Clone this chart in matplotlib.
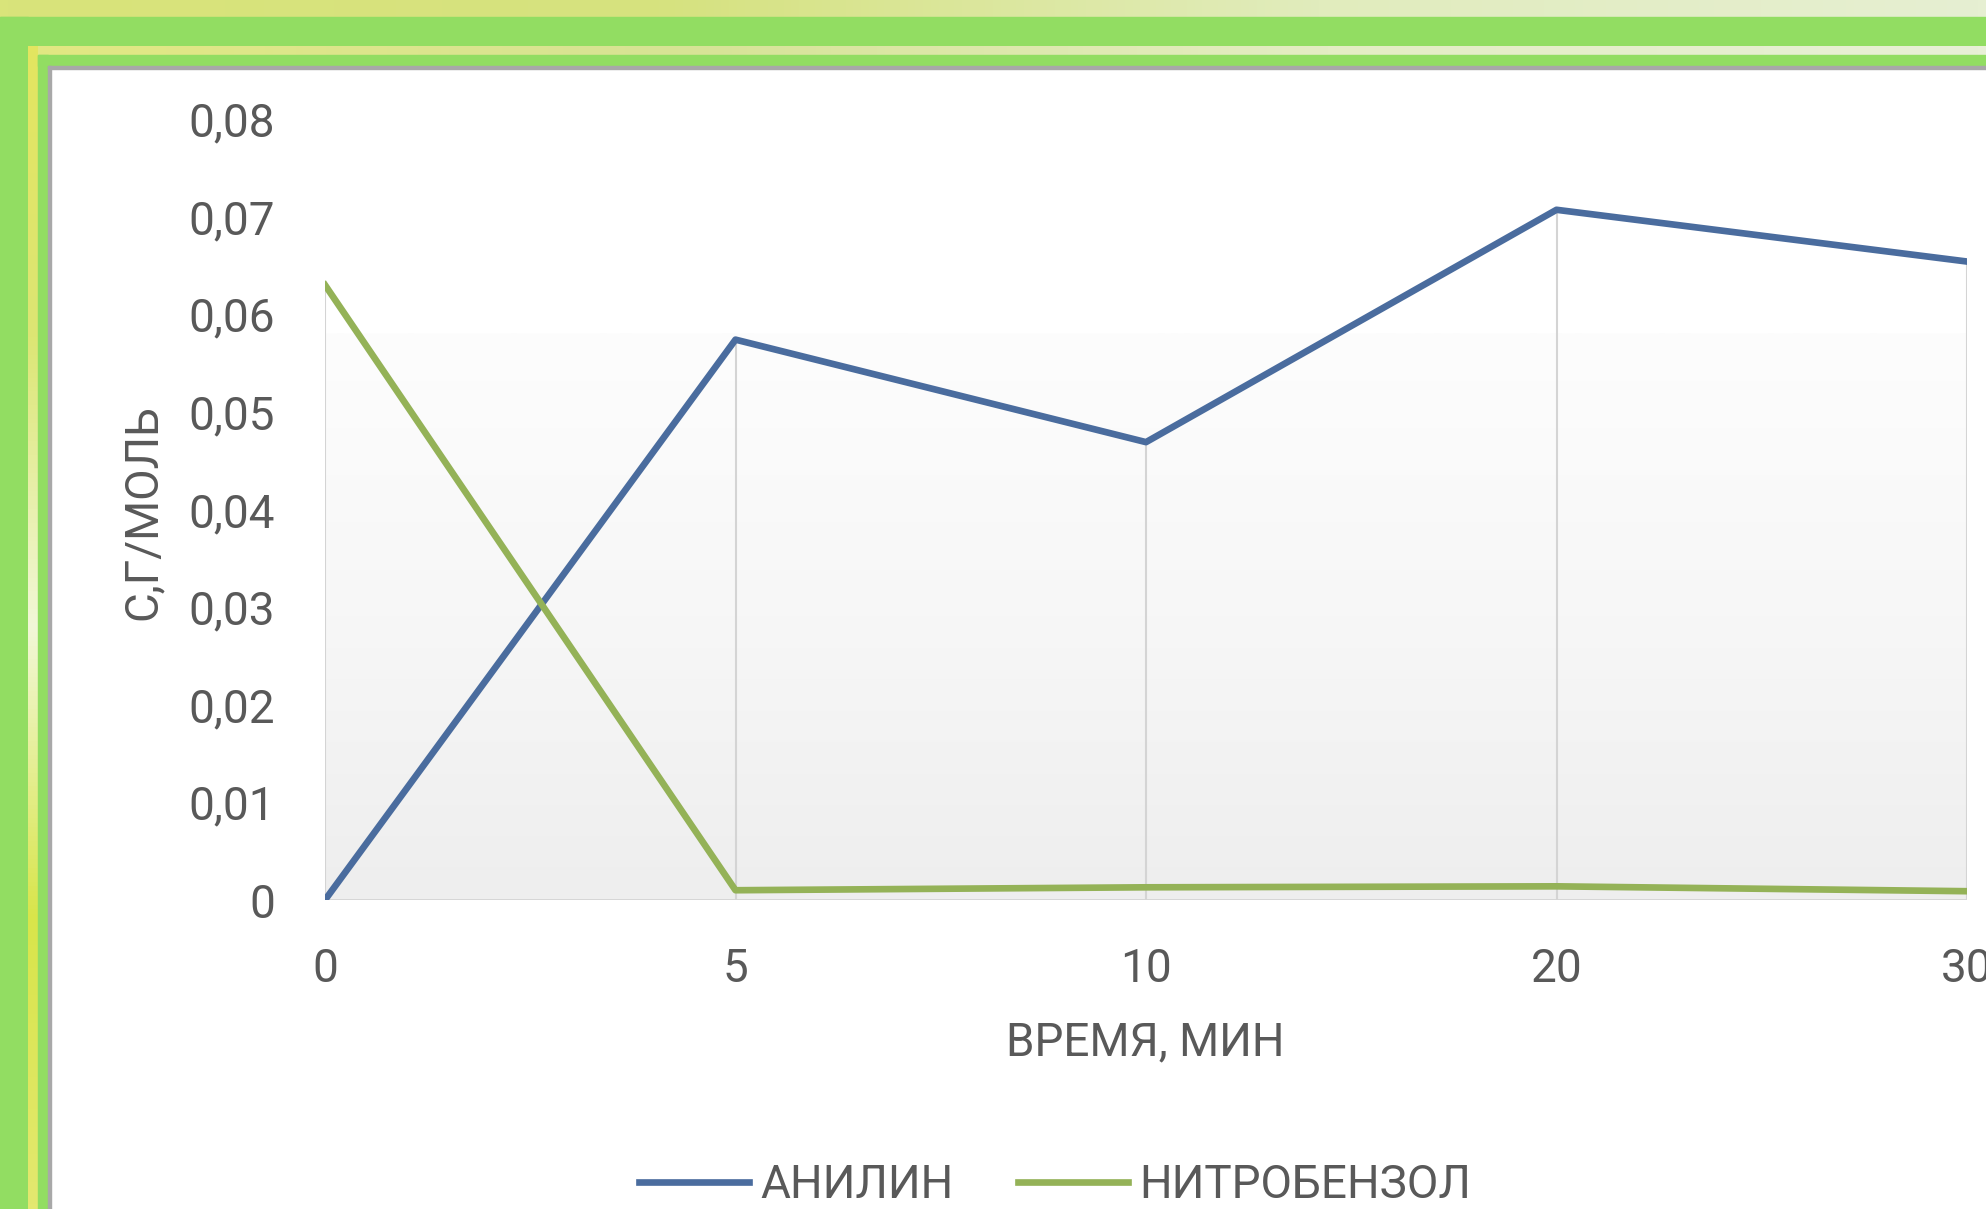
import numpy as np
import matplotlib
matplotlib.use("Agg")
import matplotlib.pyplot as plt
from matplotlib.colors import LinearSegmentedColormap
from matplotlib.patches import Rectangle

plt.rcParams["font.family"] = ["Roboto", "DejaVu Sans"]

# data
times = ["0", "5", "10", "20", "30"]
anilin = [0.0, 0.0574, 0.0469, 0.0707, 0.0654]
nitrobenzol = [0.063, 0.001, 0.0013, 0.0014, 0.0009]
y_ticks = [0.0, 0.01, 0.02, 0.03, 0.04, 0.05, 0.06, 0.07, 0.08]
y_labels = ["0", "0,01", "0,02", "0,03", "0,04", "0,05", "0,06", "0,07", "0,08"]

W, H = 1986, 1209
TXT = "#595959"
BLUE = "#4a6c9e"
GREEN = "#94b257"
FRAME = "#92dd62"

fig = plt.figure(figsize=(W / 100, H / 100), dpi=100)
fig.patch.set_facecolor("white")

# slide frame drawn in pixel space
bg = fig.add_axes([0, 0, 1, 1], zorder=-5)
bg.axis("off")
ramp = np.linspace(0, 1, 256).reshape(1, -1)
bg.imshow(ramp, extent=[0, W, 17, 0], aspect="auto", zorder=2,
          cmap=LinearSegmentedColormap.from_list(
              "t", ["#d9e47a", "#d6e27f", "#e1ecbd", "#e6efd2"]))
bg.add_patch(Rectangle((0, 17), W, 29, color=FRAME, zorder=3))
bg.add_patch(Rectangle((0, 17), 28, H, color=FRAME, zorder=3))
bg.imshow(ramp, extent=[28, W, 55, 46], aspect="auto", zorder=4,
          cmap=LinearSegmentedColormap.from_list(
              "s", ["#e2e882", "#d7e395", "#e4edc4", "#e8f0d6"]))
bg.imshow(ramp.T, extent=[28, 38, H, 46], aspect="auto", zorder=4,
          cmap=LinearSegmentedColormap.from_list(
              "l", ["#e3e560", "#dce674", "#f2f7d8", "#d8e54a", "#e3e870"]))
bg.add_patch(Rectangle((38, 55), W, 11, color=FRAME, zorder=5))
bg.add_patch(Rectangle((38, 55), 10, H, color=FRAME, zorder=5))
bg.add_patch(Rectangle((48, 66), W, 3, color="#a8a8a8", zorder=5))
bg.add_patch(Rectangle((48, 66), 3, H, color="#a8a8a8", zorder=5))
bg.set_xlim(0, W)
bg.set_ylim(H, 0)

ax = fig.add_axes([325 / W, 1 - 900 / H, (1967 - 325) / W, (900 - 119) / H])
ax.set_facecolor("none")
x = np.arange(len(times))

# plot area gradient fill
grad = np.linspace(0, 1, 256).reshape(-1, 1)
ax.imshow(grad, extent=[0, len(times) - 1, 0, 0.058], aspect="auto", origin="lower",
          cmap=LinearSegmentedColormap.from_list(
              "g", ["#eeeeee", "#f7f7f7", "#fdfdfd"]), zorder=0)

# drop lines
tops = [max(a, n) for a, n in zip(anilin, nitrobenzol)]
ax.vlines(x, 0, tops, color="#d4d4d4", lw=1.5, zorder=1)
ax.hlines(0, 0, len(times) - 1, color="#d4d4d4", lw=2, zorder=1)

ax.plot(x, anilin, color=BLUE, lw=4.8, label="АНИЛИН", zorder=3)
ax.plot(x, nitrobenzol, color=GREEN, lw=4.8, label="НИТРОБЕНЗОЛ", zorder=3)

ax.set_xlim(0, len(times) - 1)
ax.set_ylim(0, 0.08)
ax.set_xticks(x)
ax.set_xticklabels(times)
ax.set_yticks(y_ticks)
ax.set_yticklabels(y_labels)
ax.tick_params(length=0, labelsize=33, labelcolor=TXT)
ax.tick_params(axis="y", pad=36)
ax.tick_params(axis="x", pad=34)
for s in ax.spines.values():
    s.set_visible(False)

fig.text(1145 / W, 1 - 1042 / H, "ВРЕМЯ, МИН", fontsize=33, color=TXT,
         ha="center", va="center")
fig.text(143 / W, 1 - 512 / H, "С,Г/МОЛЬ", fontsize=33, color=TXT,
         ha="center", va="center", rotation=90)

fig.legend(loc="center", bbox_to_anchor=(1055 / W, 1 - 1185 / H), ncol=2,
           frameon=False, fontsize=33, labelcolor=TXT, handlelength=2.4,
           handletextpad=0.25, columnspacing=1.4, borderpad=0)

fig.savefig("out.png", dpi=100)
